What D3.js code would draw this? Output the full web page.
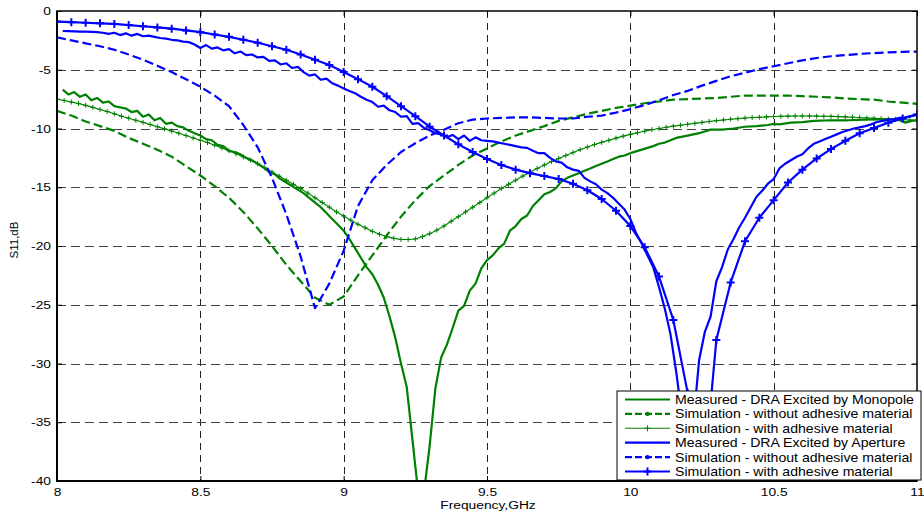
<!DOCTYPE html>
<html>
<head>
<meta charset="utf-8">
<script src="https://cdn.jsdelivr.net/npm/d3@7"></script>
<style>
  html, body { margin: 0; padding: 0; background: #fff; }
  svg { display: block; }
  text { font-family: Arial, "Liberation Sans", sans-serif; fill: #000; }
</style>
</head>
<body>
<svg id="chart" width="924" height="515"></svg>
<script>
// ---------------- DATA ----------------
const xTicks = [8, 8.5, 9, 9.5, 10, 10.5, 11];
const xTickLabels = ["8", "8.5", "9", "9.5", "10", "10.5", "11"];
const yTicks = [0, -5, -10, -15, -20, -25, -30, -35, -40];
const yTickLabels = ["0", "-5", "-10", "-15", "-20", "-25", "-30", "-35", "-40"];

const legendLabels = [
  "Measured - DRA Excited by Monopole",
  "Simulation - without adhesive material",
  "Simulation - with adhesive material",
  "Measured - DRA Excited by Aperture",
  "Simulation - without adhesive material",
  "Simulation - with adhesive material"
];

// Measured - DRA excited by monopole (green solid)
const monoMeasF = [8.02,8.04,8.06,8.08,8.10,8.12,8.14,8.16,8.18,8.20,8.22,8.24,8.26,8.28,8.30,8.32,8.34,8.36,8.38,8.40,
  8.42,8.44,8.46,8.48,8.50,8.52,8.54,8.56,8.58,8.60,8.62,8.64,8.66,8.68,8.70,8.72,8.74,8.76,8.78,8.80,
  8.82,8.84,8.86,8.88,8.90,8.92,8.94,8.96,8.98,9.00,9.02,9.04,9.06,9.08,9.10,9.12,9.14,9.16,9.18,9.20,
  9.22,9.24,9.26,9.28,9.30,9.32,9.34,9.36,9.38,9.40,9.42,9.44,9.46,9.48,9.50,9.52,9.54,9.56,9.58,9.60,
  9.62,9.64,9.66,9.68,9.70,9.72,9.74,9.76,9.78,9.80,9.82,9.84,9.86,9.88,9.90,9.92,9.94,9.96,9.98,10.00,
  10.04,10.08,10.10,10.12,10.16,10.20,10.24,10.28,10.32,10.36,10.40,10.44,10.48,10.50,10.52,10.56,10.60,10.64,10.70,10.76,
  10.82,10.88,10.92,10.94,10.96,10.98,11.00];
const monoMeasDb = [-6.7,-7.1,-6.9,-7.3,-7.1,-7.6,-7.4,-7.8,-7.7,-8.1,-8.2,-8.3,-8.6,-8.5,-9.0,-8.8,-9.3,-9.1,-9.6,-9.5,
  -9.8,-9.9,-10.2,-10.4,-10.6,-10.9,-11.0,-11.4,-11.5,-11.9,-12.0,-12.2,-12.5,-12.7,-13.0,-13.3,-13.7,-13.9,-14.3,-14.6,
  -14.9,-15.2,-15.5,-15.9,-16.3,-16.7,-17.2,-17.7,-18.2,-18.7,-19.4,-20.2,-21.0,-21.8,-22.4,-23.3,-24.4,-26.0,-27.8,-30.0,
  -32.0,-36.5,-41.0,-41.0,-37.0,-32.1,-29.5,-28.4,-27.0,-25.5,-25.1,-23.8,-23.2,-21.9,-21.2,-20.8,-20.2,-19.8,-18.7,-18.3,
  -17.7,-17.4,-16.6,-16.1,-15.6,-15.4,-15.1,-14.5,-14.2,-14.0,-13.8,-13.6,-13.4,-13.2,-13.0,-12.8,-12.6,-12.4,-12.3,-12.1,
  -11.8,-11.5,-11.3,-11.2,-10.8,-10.6,-10.4,-10.1,-10.1,-10.0,-9.85,-9.8,-9.7,-9.6,-9.65,-9.5,-9.45,-9.35,-9.3,-9.3,
  -9.25,-9.2,-9.25,-9.3,-9.5,-9.35,-9.3];

// Simulation (monopole) - without adhesive (green dashed)
const monoNoAdhF = [8.00,8.05,8.10,8.15,8.20,8.25,8.30,8.35,8.40,8.45,8.50,8.55,8.60,8.65,8.70,8.75,8.80,8.85,8.90,8.95,
  9.00,9.05,9.10,9.15,9.20,9.25,9.30,9.35,9.40,9.45,9.50,9.55,9.60,9.65,9.70,9.75,9.80,9.85,9.90,9.95,
  10.00,10.05,10.10,10.15,10.20,10.25,10.30,10.35,10.40,10.45,10.50,10.55,10.60,10.65,10.70,10.75,10.80,10.85,10.90,10.95,11.00];
const monoNoAdhDb = [-8.5,-8.9,-9.4,-9.8,-10.2,-10.8,-11.3,-11.8,-12.4,-13.2,-14.0,-14.9,-15.9,-17.1,-18.5,-20.0,-21.6,-23.0,-24.4,-25.0,
  -24.3,-22.5,-20.8,-19.1,-17.5,-16.1,-14.9,-14.0,-13.1,-12.3,-11.7,-11.1,-10.6,-10.2,-9.8,-9.35,-9.05,-8.75,-8.5,-8.25,
  -8.05,-7.85,-7.7,-7.55,-7.5,-7.45,-7.4,-7.3,-7.2,-7.2,-7.2,-7.2,-7.25,-7.3,-7.35,-7.45,-7.5,-7.55,-7.7,-7.8,-7.9];

// Simulation (monopole) - with adhesive (thin green, + markers)
const monoAdhF = [8.000,8.025,8.050,8.075,8.100,8.125,8.150,8.175,8.200,8.225,8.250,8.275,8.300,8.325,8.350,8.375,8.400,8.425,8.450,8.475,
  8.500,8.525,8.550,8.575,8.600,8.625,8.650,8.675,8.700,8.725,8.750,8.775,8.800,8.825,8.850,8.875,8.900,8.925,8.950,8.975,
  9.000,9.025,9.050,9.075,9.100,9.125,9.150,9.175,9.200,9.225,9.250,9.275,9.300,9.325,9.350,9.375,9.400,9.425,9.450,9.475,
  9.500,9.525,9.550,9.575,9.600,9.625,9.650,9.675,9.700,9.725,9.750,9.775,9.800,9.825,9.850,9.875,9.900,9.925,9.950,9.975,
  10.000,10.025,10.050,10.075,10.100,10.125,10.150,10.175,10.200,10.225,10.250,10.275,10.300,10.325,10.350,10.375,10.400,10.425,10.450,10.475,
  10.500,10.525,10.550,10.575,10.600,10.625,10.650,10.675,10.700,10.725,10.750,10.775,10.800,10.825,10.850,10.875,10.900,10.925,10.950,10.975,11.000];
const monoAdhDb = [-7.50,-7.62,-7.75,-7.88,-8.03,-8.2,-8.38,-8.55,-8.75,-8.95,-9.12,-9.3,-9.48,-9.66,-9.85,-10.03,-10.22,-10.4,-10.6,-10.8,
  -11.0,-11.2,-11.42,-11.65,-11.9,-12.15,-12.42,-12.7,-13.0,-13.35,-13.7,-14.05,-14.4,-14.75,-15.1,-15.5,-15.9,-16.3,-16.7,-17.1,
  -17.45,-17.8,-18.15,-18.45,-18.75,-19.0,-19.2,-19.35,-19.45,-19.45,-19.4,-19.2,-18.95,-18.65,-18.3,-17.9,-17.5,-17.1,-16.7,-16.3,
  -15.9,-15.5,-15.1,-14.75,-14.4,-14.05,-13.7,-13.4,-13.1,-12.8,-12.55,-12.3,-12.05,-11.8,-11.58,-11.37,-11.18,-11.0,-10.82,-10.65,
  -10.5,-10.36,-10.23,-10.1,-10.0,-9.9,-9.8,-9.72,-9.64,-9.56,-9.48,-9.4,-9.33,-9.27,-9.21,-9.16,-9.11,-9.07,-9.04,-9.01,
  -8.98,-8.96,-8.95,-8.94,-8.94,-8.94,-8.95,-8.96,-8.97,-8.99,-9.01,-9.04,-9.07,-9.1,-9.13,-9.16,-9.19,-9.22,-9.25,-9.28,-9.3];

// Measured - DRA excited by aperture (blue solid)
const apMeasF = [8.02,8.04,8.06,8.08,8.10,8.12,8.14,8.16,8.18,8.20,8.22,8.24,8.26,8.28,8.30,8.32,8.34,8.36,8.38,8.40,
  8.42,8.44,8.46,8.48,8.50,8.52,8.54,8.56,8.58,8.60,8.62,8.64,8.66,8.68,8.70,8.72,8.74,8.76,8.78,8.80,
  8.82,8.84,8.86,8.88,8.90,8.92,8.94,8.96,8.98,9.00,9.02,9.04,9.06,9.08,9.10,9.12,9.14,9.16,9.18,9.20,
  9.22,9.24,9.26,9.28,9.30,9.32,9.34,9.36,9.38,9.40,9.42,9.44,9.46,9.48,9.50,9.52,9.54,9.56,9.58,9.60,
  9.62,9.64,9.66,9.68,9.70,9.72,9.74,9.76,9.78,9.80,9.82,9.84,9.86,9.88,9.90,9.92,9.94,9.96,9.98,10.00,
  10.02,10.04,10.06,10.08,10.10,10.12,10.14,10.16,10.18,10.20,10.22,10.24,10.26,10.28,10.30,10.32,10.34,10.36,10.38,10.40,
  10.42,10.44,10.46,10.48,10.50,10.52,10.54,10.56,10.58,10.60,10.62,10.64,10.66,10.68,10.70,10.72,10.74,10.76,10.78,10.80,
  10.82,10.84,10.86,10.88,10.90,10.92,10.94,10.96,10.98,11.00];
const apMeasDb = [-1.7,-1.72,-1.74,-1.75,-1.76,-1.78,-1.8,-1.85,-1.95,-1.85,-2.05,-1.9,-2.1,-1.95,-2.15,-2.1,-2.2,-2.3,-2.35,-2.45,
  -2.5,-2.6,-2.65,-2.85,-3.15,-2.9,-3.2,-3.1,-3.35,-3.25,-3.6,-3.45,-3.75,-3.7,-3.95,-3.9,-4.25,-4.2,-4.55,-4.45,
  -4.85,-4.75,-5.2,-5.5,-5.4,-5.85,-5.75,-6.15,-6.35,-6.6,-6.8,-7.0,-7.3,-7.55,-7.75,-8.15,-8.05,-8.45,-8.6,-9.0,
  -8.95,-9.6,-9.55,-9.95,-10.15,-10.4,-10.5,-10.75,-10.55,-10.9,-10.6,-11.05,-10.75,-11.0,-11.05,-11.1,-11.2,-11.3,-11.4,-11.5,
  -11.6,-11.65,-11.9,-12.1,-12.1,-12.5,-12.8,-12.9,-13.3,-13.5,-13.6,-14.2,-14.5,-14.75,-15.2,-15.5,-15.9,-16.4,-16.9,-17.7,
  -18.9,-19.8,-20.8,-21.8,-23.5,-25.3,-27.5,-30.7,-34.5,-38.5,-35.0,-29.7,-27.3,-26.0,-23.0,-21.8,-20.3,-19.4,-18.4,-17.6,
  -16.7,-15.8,-15.3,-14.7,-14.3,-13.4,-13.0,-12.7,-12.4,-12.2,-11.7,-11.3,-11.1,-10.9,-10.7,-10.5,-10.3,-10.15,-10.0,-9.9,
  -9.8,-9.65,-9.45,-9.35,-9.25,-9.2,-9.1,-9.05,-8.95,-8.85];

// Simulation (aperture) - without adhesive (blue dashed)
const apNoAdhF = [8.00,8.05,8.10,8.15,8.20,8.25,8.30,8.35,8.40,8.45,8.50,8.55,8.60,8.65,8.70,8.75,8.80,8.85,8.90,8.95,
  9.00,9.05,9.10,9.15,9.20,9.25,9.30,9.35,9.40,9.45,9.50,9.55,9.60,9.65,9.70,9.75,9.80,9.85,9.90,9.95,
  10.00,10.05,10.10,10.15,10.20,10.25,10.30,10.35,10.40,10.45,10.50,10.55,10.60,10.65,10.70,10.75,10.80,10.85,10.90,10.95,11.00];
const apNoAdhDb = [-2.25,-2.5,-2.75,-3.0,-3.3,-3.7,-4.15,-4.65,-5.2,-5.8,-6.45,-7.2,-8.1,-9.7,-11.6,-14.2,-17.3,-20.9,-25.3,-23.2,
  -20.4,-16.6,-14.4,-13.1,-12.0,-11.25,-10.6,-10.1,-9.55,-9.25,-9.15,-9.1,-9.05,-9.05,-9.1,-9.15,-9.15,-9.0,-8.9,-8.65,
  -8.35,-8.0,-7.6,-7.15,-6.8,-6.35,-5.95,-5.55,-5.25,-4.95,-4.7,-4.45,-4.2,-4.0,-3.85,-3.75,-3.65,-3.58,-3.52,-3.48,-3.45];

// Simulation (aperture) - with adhesive (blue solid, + markers)
const apAdhF = apNoAdhF.slice();
const apAdhDb = [-0.9,-0.95,-1.0,-1.05,-1.1,-1.2,-1.3,-1.4,-1.5,-1.65,-1.8,-2.0,-2.2,-2.45,-2.7,-3.0,-3.3,-3.7,-4.15,-4.6,
  -5.2,-5.8,-6.45,-7.25,-8.1,-8.95,-9.85,-10.6,-11.35,-12.0,-12.6,-13.1,-13.5,-13.8,-14.05,-14.3,-14.7,-15.25,-16.0,-17.0,
  -18.3,-20.1,-22.6,-26.3,-32.5,-41.5,-28.0,-23.1,-19.6,-17.6,-16.1,-14.6,-13.5,-12.55,-11.75,-11.05,-10.4,-9.95,-9.5,-9.15,-8.8];

// ---------------- CHART ----------------
const green = "#008000", blue = "#0000ff";
const series = [
  { f: monoMeasF, v: monoMeasDb, color: green, width: 2.2, dash: null, marker: null, legendDot: false },
  { f: monoNoAdhF, v: monoNoAdhDb, color: green, width: 2.2, dash: "9,4", marker: null, legendDot: true },
  { f: monoAdhF, v: monoAdhDb, color: green, width: 1.1, dash: null, marker: "smallPlus", legendDot: false },
  { f: apMeasF, v: apMeasDb, color: blue, width: 2.2, dash: null, marker: null, legendDot: false },
  { f: apNoAdhF, v: apNoAdhDb, color: blue, width: 2.2, dash: "9,4", marker: null, legendDot: true },
  { f: apAdhF, v: apAdhDb, color: blue, width: 2.2, dash: null, marker: "bigPlus", legendDot: false }
];

const L = 57, R = 917, T = 11, B = 481;
const x = d3.scaleLinear().domain([8, 11]).range([L, R]);
const y = d3.scaleLinear().domain([-40, 0]).range([B, T]);

const svg = d3.select("#chart");
svg.append("defs").append("clipPath").attr("id", "plotClip")
  .append("rect").attr("x", L).attr("y", T).attr("width", R - L).attr("height", B - T);

// grid
const grid = svg.append("g");
grid.selectAll("line.v").data(xTicks.slice(1, -1)).join("line")
  .attr("x1", d => Math.round(x(d)) + 0.5).attr("x2", d => Math.round(x(d)) + 0.5)
  .attr("y1", T).attr("y2", B)
  .attr("stroke", "#222").attr("stroke-width", 1).attr("stroke-dasharray", "7,5");
grid.selectAll("line.h").data(yTicks.slice(1, -1)).join("line")
  .attr("y1", d => Math.round(y(d)) + 0.5).attr("y2", d => Math.round(y(d)) + 0.5)
  .attr("x1", L).attr("x2", R)
  .attr("stroke", "#444").attr("stroke-width", 1.2).attr("stroke-dasharray", "9,5");

// axes
const axB = svg.append("g").attr("transform", `translate(0,${B})`)
  .call(d3.axisBottom(x).tickValues(xTicks).tickFormat((d, i) => xTickLabels[i]).tickSize(-5).tickPadding(7));
const axT = svg.append("g").attr("transform", `translate(0,${T})`)
  .call(d3.axisTop(x).tickValues(xTicks).tickFormat("").tickSize(-5));
const axL = svg.append("g").attr("transform", `translate(${L},0)`)
  .call(d3.axisLeft(y).tickValues(yTicks).tickFormat((d, i) => yTickLabels[i]).tickSize(-5).tickPadding(5));
const axR = svg.append("g").attr("transform", `translate(${R},0)`)
  .call(d3.axisRight(y).tickValues(yTicks).tickFormat("").tickSize(-5));
[axB, axT, axL, axR].forEach(a => {
  a.select(".domain").remove();
  a.selectAll(".tick line").attr("stroke", "#000");
  a.selectAll("text").attr("font-family", "Arial, 'Liberation Sans', sans-serif").attr("font-size", "11.5px").attr("fill", "#000");
});
// stretch tick labels horizontally (reference is horizontally stretched)
axL.selectAll(".tick text").attr("transform", "translate(-1,0) scale(1.2,1)").attr("x", -5 / 1.2);
axB.selectAll(".tick text").attr("transform", "scale(1.2,1)");

// lines
const plot = svg.append("g").attr("clip-path", "url(#plotClip)");
const lineGen = (s) => d3.line().x((d, i) => x(s.f[i])).y(d => y(d));
series.forEach(s => {
  plot.append("path").datum(s.v)
    .attr("d", lineGen(s))
    .attr("fill", "none").attr("stroke", s.color)
    .attr("stroke-width", s.width)
    .attr("stroke-linejoin", "round")
    .attr("stroke-dasharray", s.dash);
  if (s.marker) {
    const sz = s.marker === "bigPlus" ? 4 : 2.5;
    const sw = s.marker === "bigPlus" ? 2 : 1;
    const pts = s.v.map((v, i) => [x(s.f[i]), y(v)]);
    plot.append("path")
      .attr("d", pts.map(p => `M${p[0] - sz},${p[1]}H${p[0] + sz}M${p[0]},${p[1] - sz}V${p[1] + sz}`).join(""))
      .attr("stroke", s.color).attr("stroke-width", sw).attr("fill", "none");
  }
});

// frame
svg.append("rect").attr("x", L).attr("y", T).attr("width", R - L).attr("height", B - T)
  .attr("fill", "none").attr("stroke", "#000").attr("stroke-width", 1.5);
svg.append("line").attr("x1", L).attr("x2", L).attr("y1", T).attr("y2", B + 1).attr("stroke", "#000").attr("stroke-width", 2);
svg.append("line").attr("x1", L).attr("x2", R).attr("y1", B).attr("y2", B).attr("stroke", "#000").attr("stroke-width", 2);

// axis titles
svg.append("text").attr("transform", `translate(488,508.5) scale(1.2,1)`)
  .attr("text-anchor", "middle").attr("font-size", "11.5px").text("Frequency,GHz");
svg.append("text").attr("transform", "translate(18,240) rotate(-90)")
  .attr("text-anchor", "middle").attr("font-size", "11.5px").text("S11,dB");

// legend
const lg = svg.append("g");
const lgX = 617, lgY = 391, lgW = 304, lgH = 89, rowH = 14.4;
lg.append("rect").attr("x", lgX).attr("y", lgY).attr("width", lgW).attr("height", lgH)
  .attr("fill", "#fff").attr("stroke", "#000").attr("stroke-width", 1);
series.forEach((s, i) => {
  const cy = lgY + 8.5 + i * rowH;
  lg.append("line").attr("x1", 625).attr("x2", 670).attr("y1", cy).attr("y2", cy)
    .attr("stroke", s.color).attr("stroke-width", s.width).attr("stroke-dasharray", s.dash ? "7,3" : null);
  if (s.legendDot) lg.append("circle").attr("cx", 647.5).attr("cy", cy).attr("r", 2.2).attr("fill", s.color);
  if (s.marker) {
    const sz = s.marker === "bigPlus" ? 4 : 3;
    lg.append("path").attr("d", `M${647.5 - sz},${cy}H${647.5 + sz}M${647.5},${cy - sz}V${cy + sz}`)
      .attr("stroke", s.color).attr("stroke-width", s.marker === "bigPlus" ? 2 : 1);
  }
  lg.append("text").attr("transform", `translate(675,${cy + 4.5}) scale(1.12,1)`)
    .attr("font-size", "12.6px").text(legendLabels[i]);
});
</script>
</body>
</html>
